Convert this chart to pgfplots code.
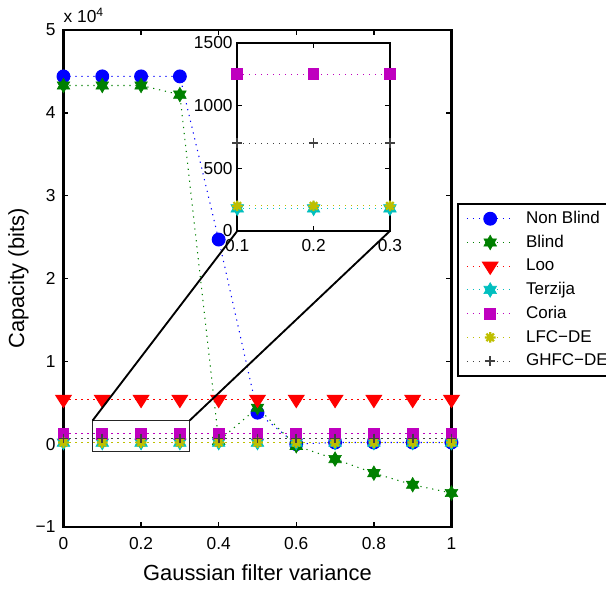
\documentclass[border=0pt]{standalone}
\usepackage{fontspec}
\setmainfont{Liberation Sans}
\usepackage{pgfplots}
\pgfplotsset{compat=1.18}

\definecolor{mb}{rgb}{0,0,1}
\definecolor{mg}{rgb}{0,0.5,0}
\definecolor{mr}{rgb}{1,0,0}
\definecolor{mc}{rgb}{0,0.75,0.75}
\definecolor{mm}{rgb}{0.75,0,0.75}
\definecolor{my}{rgb}{0.75,0.75,0}
\definecolor{mk}{rgb}{0.25,0.25,0.25}

\pgfdeclareplotmark{hexagram}{%
  \pgfpathmoveto{\pgfqpoint{0pt}{\pgfplotmarksize}}%
  \pgfpathlineto{\pgfqpointpolar{210}{\pgfplotmarksize}}%
  \pgfpathlineto{\pgfqpointpolar{330}{\pgfplotmarksize}}%
  \pgfpathclose
  \pgfpathmoveto{\pgfqpoint{0pt}{-\pgfplotmarksize}}%
  \pgfpathlineto{\pgfqpointpolar{30}{\pgfplotmarksize}}%
  \pgfpathlineto{\pgfqpointpolar{150}{\pgfplotmarksize}}%
  \pgfpathclose
  \pgfusepathqfillstroke}

\pgfdeclareplotmark{mstar}{%
  \pgfpathmoveto{\pgfqpoint{-\pgfplotmarksize}{0pt}}\pgfpathlineto{\pgfqpoint{\pgfplotmarksize}{0pt}}%
  \pgfpathmoveto{\pgfqpoint{0pt}{-\pgfplotmarksize}}\pgfpathlineto{\pgfqpoint{0pt}{\pgfplotmarksize}}%
  \pgfpathmoveto{\pgfqpoint{-.707\pgfplotmarksize}{-.707\pgfplotmarksize}}\pgfpathlineto{\pgfqpoint{.707\pgfplotmarksize}{.707\pgfplotmarksize}}%
  \pgfpathmoveto{\pgfqpoint{-.707\pgfplotmarksize}{.707\pgfplotmarksize}}\pgfpathlineto{\pgfqpoint{.707\pgfplotmarksize}{-.707\pgfplotmarksize}}%
  \pgfusepathqstroke}

\pgfplotsset{
  mline/.style={line width=0.8pt, dash pattern=on 0.9pt off 3.6pt},
  snb/.style={mline, color=mb, mark=*, mark size=4.8pt, mark options={solid, fill=mb, draw=mb}},
  sbl/.style={mline, color=mg, mark=hexagram, mark size=5.5pt, mark options={solid, fill=mg, draw=mg, line width=0.4pt}},
  slo/.style={mline, color=mr, mark=triangle*, mark size=6pt, mark options={solid, fill=mr, draw=mr, rotate=180, xscale=1.1}},
  ste/.style={mline, color=mc, mark=hexagram, mark size=5.5pt, mark options={solid, fill=mc, draw=mc, line width=0.4pt}},
  sco/.style={mline, color=mm, mark=square*, mark size=4pt, mark options={solid, fill=mm, draw=mm}},
  slf/.style={mline, color=my, mark=mstar, mark size=4pt, mark options={solid, draw=my, line width=1.7pt}},
  sgh/.style={mline, color=mk, mark=+, mark size=3.6pt, mark options={solid, draw=mk, line width=1.3pt}},
  myaxis/.style={
    scale only axis,
    tick align=inside,
    major tick length=3.75pt,
    axis line style={line width=1.8pt},
    every tick/.style={black, line width=1.1pt},
    tick label style={font=\fontsize{13}{15}\selectfont},
    /pgf/number format/assume math mode=true,
    scaled x ticks=false, scaled y ticks=false,
    clip=false,
  },
}

\begin{document}
\begin{tikzpicture}
\begin{axis}[
  myaxis,
  name=main, at={(0pt,0pt)}, anchor=south west,
  width=291pt, height=372.75pt,
  xmin=0, xmax=1, ymin=-10000, ymax=50000,
  xtick={0,0.2,0.4,0.6,0.8,1}, xticklabels={0,0.2,0.4,0.6,0.8,1},
  ytick={-10000,0,10000,20000,30000,40000,50000},
  yticklabels={−1,0,1,2,3,4,5},
  xticklabel style={yshift=-4.5pt},
  yticklabel style={xshift=-2.5pt},
  xlabel={Gaussian filter variance},
  ylabel={Capacity (bits)},
  label style={font=\fontsize{16.4}{19}\selectfont},
  xlabel style={at={(axis description cs:0.5,-0.0926)}, anchor=center},
  ylabel style={at={(axis description cs:-0.116,0.5)}, anchor=center},
  legend style={at={(axis description cs:1,0.477)}, xshift=3.9pt, anchor=west,
    draw=black, line width=1.5pt, fill=white,
    font=\fontsize{12.75}{14}\selectfont,
    inner xsep=6.5pt, inner ysep=4pt, row sep=3.8pt,
    nodes={inner sep=1pt, text height=9.5pt, text depth=2.5pt},
    cells={anchor=west},
    /tikz/every odd column/.append style={column sep=8pt}},
  legend image code/.code={\draw[mark repeat=2,mark phase=2] plot coordinates {(0pt,0pt) (17.5pt,0pt) (35pt,0pt)};},
]
\addplot[snb] coordinates {(0,44400)(0.1,44400)(0.2,44400)(0.3,44400)(0.4,24700)(0.5,3800)(0.6,0)(0.7,200)(0.8,200)(0.9,200)(1,200)};
\addlegendentry{Non Blind}
\addplot[sbl] coordinates {(0,43300)(0.1,43300)(0.2,43300)(0.3,42200)(0.4,400)(0.5,4400)(0.6,-200)(0.7,-1800)(0.8,-3500)(0.9,-4900)(1,-5900)};
\addlegendentry{Blind}
\addplot[slo] coordinates {(0,5400)(0.1,5400)(0.2,5400)(0.3,5400)(0.4,5400)(0.5,5400)(0.6,5400)(0.7,5400)(0.8,5400)(0.9,5400)(1,5400)};
\addlegendentry{Loo}
\addplot[ste] coordinates {(0,180)(0.1,180)(0.2,180)(0.3,180)(0.4,180)(0.5,180)(0.6,180)(0.7,180)(0.8,180)(0.9,180)(1,180)};
\addlegendentry{Terzija}
\addplot[sco] coordinates {(0,1250)(0.1,1250)(0.2,1250)(0.3,1250)(0.4,1250)(0.5,1250)(0.6,1250)(0.7,1250)(0.8,1250)(0.9,1250)(1,1250)};
\addlegendentry{Coria}
\addplot[slf] coordinates {(0,200)(0.1,200)(0.2,200)(0.3,200)(0.4,200)(0.5,200)(0.6,200)(0.7,200)(0.8,200)(0.9,200)(1,200)};
\addlegendentry{LFC−DE}
\addplot[sgh] coordinates {(0,700)(0.1,700)(0.2,700)(0.3,700)(0.4,700)(0.5,700)(0.6,700)(0.7,700)(0.8,700)(0.9,700)(1,700)};
\addlegendentry{GHFC−DE}
\draw[line width=0.7pt, black!85] (axis cs:0.075,-900) rectangle (axis cs:0.325,2850);
\coordinate (r1) at (axis cs:0.075,2850);
\coordinate (r2) at (axis cs:0.325,2850);
\node[anchor=base west, inner sep=0pt, font=\fontsize{13}{15}\selectfont] at (rel axis cs:0,1) [yshift=5.5pt] {x 10\textsuperscript{4}};
\end{axis}

\begin{axis}[
  myaxis,
  name=inset, at={(130.35pt,222pt)}, anchor=south west,
  width=114.5pt, height=141.2pt,
  xmin=0.1, xmax=0.3, ymin=0, ymax=1500,
  xtick={0.1,0.2,0.3}, xticklabels={0.1,0.2,0.3},
  ytick={0,500,1000,1500}, yticklabels={0,500,1000,1500},
  xticklabel style={yshift=-2.5pt},
  axis background/.style={fill=white},
]
\addplot[ste] coordinates {(0.1,180)(0.2,180)(0.3,180)};
\addplot[sco] coordinates {(0.1,1250)(0.2,1250)(0.3,1250)};
\addplot[slf] coordinates {(0.1,200)(0.2,200)(0.3,200)};
\addplot[sgh] coordinates {(0.1,700)(0.2,700)(0.3,700)};
\coordinate (i1) at (rel axis cs:0,0);
\coordinate (i2) at (rel axis cs:1,0);
\end{axis}
\draw[line width=1.4pt] (r1) -- (i1);
\draw[line width=1.4pt] (r2) -- (i2);
\pgfresetboundingbox
\path[use as bounding box] (-47.6pt,-46.5pt) rectangle (406.9pt,395.25pt);
\end{tikzpicture}
\end{document}
